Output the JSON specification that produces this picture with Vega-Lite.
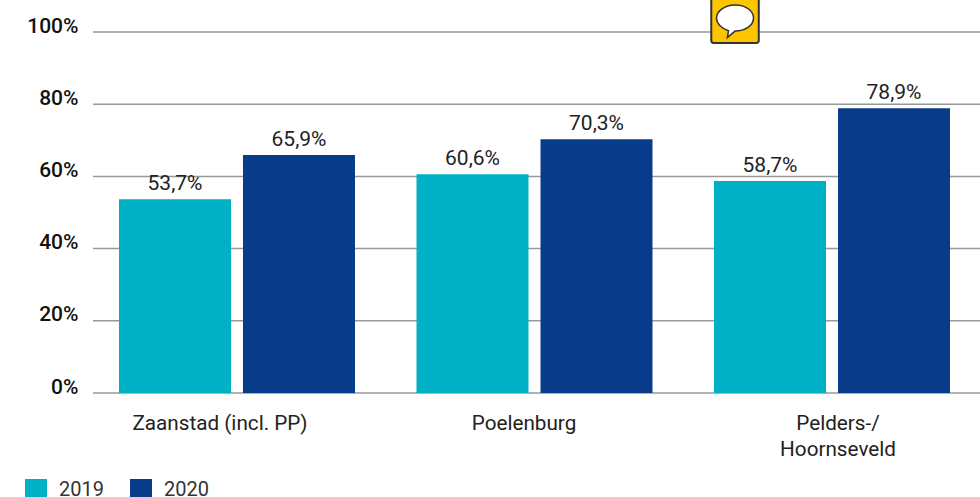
{"$schema":"https://vega.github.io/schema/vega-lite/v6.json","width":887,"height":361,"autosize":{"type":"none"},"padding":{"left":93,"top":32,"right":0,"bottom":104},"background":"white","config":{"locale":{"number":{"decimal":",","thousands":".","grouping":[3],"currency":["€",""]}},"view":{"stroke":null},"font":"Roboto"},"data":{"values":[{"gebied":"Zaanstad (incl. PP)","jaar":"2019","aandeel":0.537},{"gebied":"Zaanstad (incl. PP)","jaar":"2020","aandeel":0.659},{"gebied":"Poelenburg","jaar":"2019","aandeel":0.606},{"gebied":"Poelenburg","jaar":"2020","aandeel":0.703},{"gebied":"Pelders-/|Hoornseveld","jaar":"2019","aandeel":0.587},{"gebied":"Pelders-/|Hoornseveld","jaar":"2020","aandeel":0.789}]},"layer":[{"data":{"values":[{"lijn":0},{"lijn":0.2},{"lijn":0.4},{"lijn":0.6},{"lijn":0.8},{"lijn":1}]},"mark":{"type":"rule","color":"#999999","strokeWidth":1.5},"encoding":{"y":{"field":"lijn","type":"quantitative","scale":{"domain":[0,1]},"axis":{"title":null,"domain":false,"ticks":false,"grid":false,"values":[0,0.2,0.4,0.6,0.8,1],"format":".0%","labelFontSize":21,"labelFontWeight":500,"labelColor":"#111111","labelPadding":15,"labelOffset":-6}}}},{"mark":{"type":"bar"},"encoding":{"x":{"field":"gebied","type":"nominal","sort":null,"scale":{"range":[-4.75,887.75],"paddingInner":0.2067,"paddingOuter":0.1033},"axis":{"title":null,"domain":false,"ticks":false,"labelAngle":0,"labelFontSize":20.7,"labelColor":"#222222","labelPadding":20,"labelLineHeight":26,"labelExpr":"split(datum.label,'|')","labelBaseline":"top","labelOffset":{"expr":"datum.value=='Zaanstad (incl. PP)'?-17:datum.value=='Poelenburg'?-10.5:6"}}},"xOffset":{"field":"jaar","type":"nominal","scale":{"paddingInner":0.0968,"paddingOuter":0}},"y":{"field":"aandeel","type":"quantitative"},"color":{"field":"jaar","type":"nominal","scale":{"domain":["2019","2020"],"range":["#00B0C4","#083B8A"]},"legend":{"title":null,"orient":"none","legendX":-68,"legendY":447,"direction":"horizontal","columns":2,"symbolType":"square","symbolSize":484,"symbolStrokeWidth":0,"symbolOpacity":1,"labelFontSize":20,"labelColor":"#333333","labelOffset":12,"columnPadding":26,"clipHeight":22}}}},{"mark":{"type":"text","baseline":"bottom","dy":-5,"fontSize":21,"color":"#222222"},"encoding":{"x":{"field":"gebied","type":"nominal","sort":null},"xOffset":{"field":"jaar","type":"nominal"},"y":{"field":"aandeel","type":"quantitative"},"text":{"field":"aandeel","type":"quantitative","format":".1%"}}},{"data":{"values":[{"gebied":"Pelders-/|Hoornseveld","pos":1}]},"mark":{"type":"point","filled":true,"shape":"M-0.9 -1 H0.9 Q1 -1 1 -0.9 V0.9 Q1 1 0.9 1 H-0.9 Q-1 1 -1 0.9 V-0.9 Q-1 -1 -0.9 -1 Z","size":2256,"color":"#FDC500","stroke":"#333333","strokeWidth":2,"opacity":1,"xOffset":-97,"yOffset":-12.75},"encoding":{"x":{"field":"gebied","type":"nominal","sort":null},"y":{"field":"pos","type":"quantitative"}}},{"data":{"values":[{"gebied":"Pelders-/|Hoornseveld","pos":1}]},"mark":{"type":"point","filled":true,"shape":"M0 -0.8 C0.6 -0.8 0.85 -0.45 0.85 -0.2 C0.85 0.15 0.45 0.4 0 0.4 L-0.35 0.7 L-0.3 0.38 C-0.6 0.3 -0.85 0.05 -0.85 -0.2 C-0.85 -0.5 -0.5 -0.8 0 -0.8 Z","size":1900,"color":"#FFFFFF","stroke":"#333333","strokeWidth":1.5,"opacity":1,"xOffset":-97,"yOffset":-9.6},"encoding":{"x":{"field":"gebied","type":"nominal","sort":null},"y":{"field":"pos","type":"quantitative"}}}]}
